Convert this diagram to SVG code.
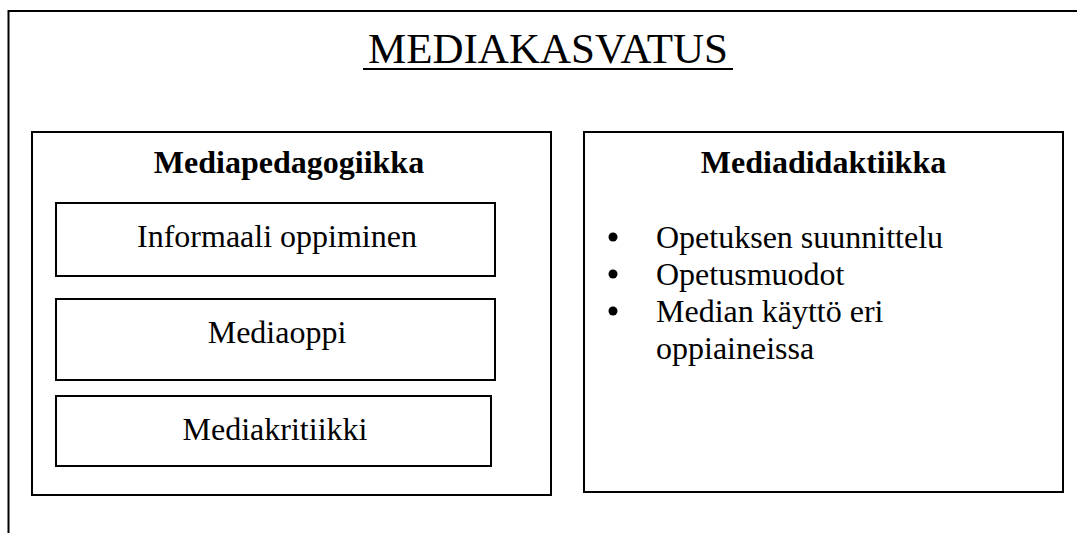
<svg xmlns="http://www.w3.org/2000/svg" width="1077" height="533" viewBox="0 0 1077 533">
<style>
.frame{fill:none;stroke:#000;stroke-width:2}
.box{fill:#fff;stroke:#000;stroke-width:2}
text{font-family:"Liberation Serif","Times New Roman",serif;fill:#000}
.title{font-size:43px}
.head{font-size:32px;font-weight:bold}
.item{font-size:32px}
.bullet{fill:#000}
</style>
<rect width="1077" height="533" fill="#fff"/>
<g id="outer">
<path class="frame" d="M8.5 533 V11 H1077"/>
<text class="title" x="548" y="63" text-anchor="middle">MEDIAKASVATUS</text>
<line x1="363" y1="69" x2="733" y2="69" stroke="#000" stroke-width="2"/>
</g>
<g id="mediapedagogiikka">
<rect class="box" x="32" y="132" width="519" height="363"/>
<text class="head" x="289" y="173" text-anchor="middle">Mediapedagogiikka</text>
</g>
<g id="informaali">
<rect class="box" x="56" y="203" width="439" height="73"/>
<text class="item" x="277" y="247" text-anchor="middle">Informaali oppiminen</text>
</g>
<g id="mediaoppi">
<rect class="box" x="56" y="299" width="439" height="81"/>
<text class="item" x="277" y="343" text-anchor="middle">Mediaoppi</text>
</g>
<g id="mediakritiikki">
<rect class="box" x="56" y="396" width="435" height="70"/>
<text class="item" x="275" y="440" text-anchor="middle">Mediakritiikki</text>
</g>
<g id="mediadidaktiikka">
<rect class="box" x="584" y="132" width="479" height="360"/>
<text class="head" x="823.5" y="173" text-anchor="middle">Mediadidaktiikka</text>
<circle class="bullet" cx="613" cy="237" r="4.5"/>
<text class="item" x="656" y="248">Opetuksen suunnittelu</text>
<circle class="bullet" cx="613" cy="274" r="4.5"/>
<text class="item" x="656" y="285">Opetusmuodot</text>
<circle class="bullet" cx="613" cy="311" r="4.5"/>
<text class="item" x="656" y="322">Median käyttö eri</text>
<text class="item" x="656" y="359">oppiaineissa</text>
</g>
<g id="connectors"/>
</svg>
